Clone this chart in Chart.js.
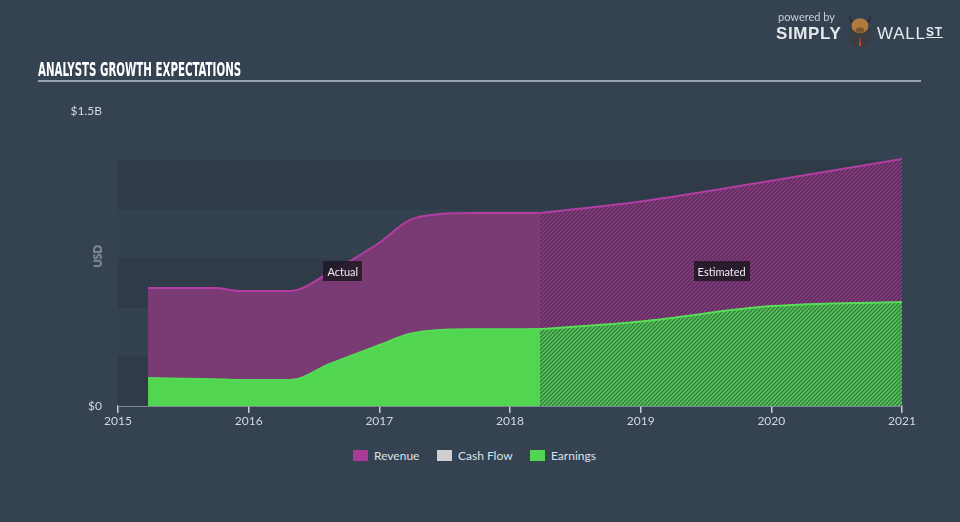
<!DOCTYPE html>
<html>
<head>
<meta charset="utf-8">
<script src="https://cdn.jsdelivr.net/npm/chart.js@4/dist/chart.umd.min.js"></script>
<style>
  body { margin: 0; background: #344252; font-family: Lato, "Noto Sans", sans-serif; }
  #wrap { position: relative; width: 960px; height: 522px; overflow: hidden; }
  #chartBox { position: absolute; left: 0; top: 0; width: 960px; height: 440px; }
  #title { position: absolute; left: 38px; top: 57px; color: #fff; font: bold 20px "Liberation Sans Narrow", "DejaVu Sans Condensed", sans-serif;
    transform: scaleX(0.57); transform-origin: left top; white-space: nowrap; }
  #rule { position: absolute; left: 38px; top: 80px; width: 883px; height: 2px; background: #9aa3ad; }
  #usd { position: absolute; left: 86px; top: 250px; width: 22px; color: #b9bfc6; font-size: 11px; transform: rotate(-90deg); text-align: center; }
  #legend { position: absolute; top: 449px; left: 0; width: 960px; height: 16px; font-size: 12px; color: #dde1e5; }
  .item { position: absolute; top: 0; line-height: 14px; }
  .box { display: inline-block; width: 15px; height: 11px; vertical-align: -1px; margin-right: 6px; }
  #logo { position: absolute; left: 776px; top: 10px; color: #e6e9ec; }
  #logo .pb { position: absolute; left: 2px; top: 0; font-size: 11px; color: #c9ced3; white-space: nowrap; }
  #logo .s { position: absolute; left: 0; top: 14px; font: bold 17px "Liberation Sans", sans-serif; letter-spacing: 0.6px; }
  #logo .w { position: absolute; left: 101px; top: 14px; font: 17px "Liberation Sans", sans-serif; letter-spacing: 0.8px; white-space: nowrap; }
  #logo .w u { font-size: 12px; font-weight: bold; vertical-align: 3px; }
  #bull { position: absolute; left: 68px; top: 2px; width: 32px; height: 36px; }
</style>
</head>
<body>
<div id="wrap">
  <div id="chartBox"><canvas id="growthChart"></canvas></div>
  <div id="title">ANALYSTS GROWTH EXPECTATIONS</div>
  <div id="rule"></div>
  <div id="usd">USD</div>
  <div id="legend"></div>
  <div id="logo">
    <div class="pb">powered by</div>
    <div class="s">SIMPLY</div>
    <svg id="bull" viewBox="0 0 30 34">
      <path d="M4 2 L8 9 L22 9 L26 2 L24 10 L6 10 Z" fill="#2b2b2b"/>
      <circle cx="15" cy="22" r="11" fill="#3a3d42"/>
      <ellipse cx="15" cy="13" rx="8" ry="7" fill="#b07a3c"/>
      <ellipse cx="15" cy="17" rx="4" ry="2.5" fill="#7a5630"/>
      <path d="M15 22 L14 32 L16 32 Z" fill="#d9452c"/>
    </svg>
    <div class="w">WALL<u>ST</u></div>
  </div>
</div>
<script>
// values, $ billions
const actualYears = [2015.23, 2015.74, 2015.93, 2016.32, 2016.62, 2017.0, 2017.23, 2017.46, 2017.75, 2018.23];
const actualRevenue = [0.60, 0.60, 0.585, 0.585, 0.68, 0.83, 0.945, 0.976, 0.981, 0.981];
const actualEarnings = [0.142, 0.136, 0.132, 0.132, 0.214, 0.31, 0.366, 0.386, 0.39, 0.391];

const estYears = [2018.23, 2019.0, 2020.0, 2021.0];
const estRevenue = [0.981, 1.04, 1.145, 1.256];
const estEarnings = [0.391, 0.43, 0.508, 0.529];

const yearTicks = [2015, 2016, 2017, 2018, 2019, 2020, 2021];
const yTickLabels = { 0: "$0", 1.5: "$1.5B" };

const legendItems = [
  { label: "Revenue", color: "#a73b96", left: 353 },
  { label: "Cash Flow", color: "#cfcfcf", left: 437 },
  { label: "Earnings", color: "#52d652", left: 530 },
];

function toPoints(xs, ys) {
  return xs.map((x, i) => ({ x, y: ys[i] }));
}

function hatch(base, stripe) {
  const c = document.createElement("canvas");
  c.width = 4;
  c.height = 4;
  const g = c.getContext("2d");
  g.fillStyle = base;
  g.fillRect(0, 0, 4, 4);
  g.strokeStyle = stripe;
  g.lineWidth = 1.3;
  g.beginPath();
  g.moveTo(0, 4); g.lineTo(4, 0);
  g.moveTo(-1, 1); g.lineTo(1, -1);
  g.moveTo(3, 5); g.lineTo(5, 3);
  g.stroke();
  return g.createPattern(c, "repeat");
}

const bands = {
  id: "bands",
  beforeDatasetsDraw(chart) {
    const { ctx, chartArea, scales } = chart;
    const y = scales.y;
    const rows = [[0, 0.25, "#2f3b49"], [0.25, 0.5, "#34414f"], [0.5, 0.75, "#2f3b49"], [0.75, 1.0, "#34414f"], [1.0, 1.25, "#2f3b49"]];
    ctx.save();
    rows.forEach(([a, b, col]) => {
      const top = y.getPixelForValue(b);
      ctx.fillStyle = col;
      ctx.fillRect(chartArea.left, top, chartArea.right - chartArea.left, y.getPixelForValue(a) - top);
    });
    ctx.restore();
  },
};

const tags = {
  id: "tags",
  afterDatasetsDraw(chart) {
    const { ctx, scales } = chart;
    const list = [["Actual", 2016.72, 0.684], ["Estimated", 2019.62, 0.684]];
    ctx.save();
    ctx.font = "11px Lato, sans-serif";
    ctx.textAlign = "center";
    ctx.textBaseline = "middle";
    list.forEach(([txt, xv, yv]) => {
      const x = scales.x.getPixelForValue(xv);
      const y = scales.y.getPixelForValue(yv);
      const w = ctx.measureText(txt).width + 8;
      ctx.fillStyle = "rgba(32, 24, 36, 0.88)";
      ctx.fillRect(Math.round(x - w / 2), Math.round(y - 10), Math.round(w), 20);
      ctx.fillStyle = "#eeeeee";
      ctx.fillText(txt, x, y + 1);
    });
    ctx.restore();
  },
};

const legend = document.getElementById("legend");
legendItems.forEach((it) => {
  const d = document.createElement("div");
  d.className = "item";
  d.style.left = it.left + "px";
  d.innerHTML = `<span class="box" style="background:${it.color}"></span>${it.label}`;
  legend.appendChild(d);
});

const ctx = document.getElementById("growthChart").getContext("2d");
const line = { pointRadius: 0, borderWidth: 2, cubicInterpolationMode: "monotone", fill: "origin" };

new Chart(ctx, {
  type: "line",
  data: {
    datasets: [
      { ...line, label: "Earnings est", data: toPoints(estYears, estEarnings), borderColor: "#58dd58", backgroundColor: hatch("#3a7a45", "#54d054") },
      { ...line, label: "Earnings", data: toPoints(actualYears, actualEarnings), borderColor: "#55dc55", backgroundColor: "#52d652" },
      { ...line, label: "Revenue est", data: toPoints(estYears, estRevenue), borderColor: "#b23ea2", backgroundColor: hatch("#5a2f5a", "#8b3b84") },
      { ...line, label: "Revenue", data: toPoints(actualYears, actualRevenue), borderColor: "#b23ea2", backgroundColor: "#7a3a74" },
    ],
  },
  options: {
    responsive: true,
    maintainAspectRatio: false,
    animation: false,
    layout: { padding: { top: 111, right: 58, left: 0, bottom: 0 } },
    plugins: { legend: { display: false }, tooltip: { enabled: false } },
    scales: {
      x: {
        type: "linear",
        min: 2015,
        max: 2021,
        afterBuildTicks: (s) => { s.ticks = yearTicks.map((v) => ({ value: v })); },
        afterFit: (s) => { s.height = 34; },
        ticks: { color: "#d3d8dd", font: { size: 12, family: "Lato" }, padding: 1, callback: (v) => String(v), maxRotation: 0 },
        grid: { drawOnChartArea: false, drawTicks: true, tickLength: 7, color: "#c8cdd2", lineWidth: 1.5 },
        border: { display: true, color: "#c8cdd2", width: 1.5 },
      },
      y: {
        min: 0,
        max: 1.5,
        afterBuildTicks: (s) => { s.ticks = Object.keys(yTickLabels).map((v) => ({ value: +v })); },
        afterFit: (s) => { s.width = 118; },
        ticks: { color: "#d3d8dd", font: { size: 12, family: "Lato" }, padding: 16, callback: (v) => yTickLabels[v] },
        grid: { display: false, drawTicks: false },
        border: { display: false },
      },
    },
  },
  plugins: [bands, tags],
});
</script>
</body>
</html>
